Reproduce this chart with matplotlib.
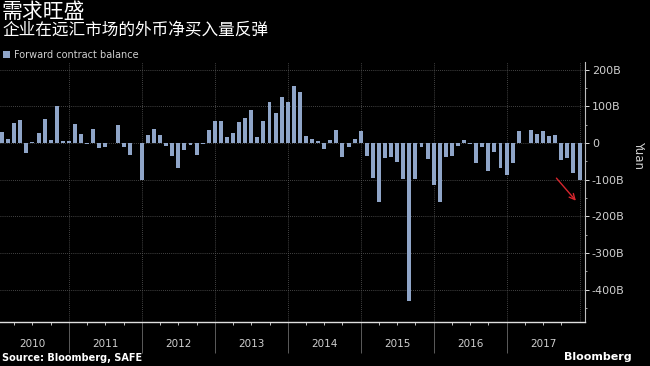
import numpy as np
import matplotlib
matplotlib.use("Agg")
from matplotlib import pyplot as plt

plt.rcParams['font.family'] = ['Noto Sans CJK SC', 'DejaVu Sans']

# monthly forward contract balance, billion yuan, Jan 2010 - Dec 2017
years = ['2010', '2011', '2012', '2013', '2014', '2015', '2016', '2017']
balance = [
    30, 12, 54, 62, -26, 2, 28, 66, 7, 100, 6, 5,            # 2010
    51, 25, -2, 37, -13, -12, 1, 48, -12, -33, 0, -102,      # 2011
    22, 37, 23, -9, -34, -67, -20, -6, -33, -2, 36, 61,      # 2012
    61, 17, 28, 58, 67, 91, 17, 59, 111, 81, 125, 113,       # 2013
    156, 140, 18, 10, 5, -15, 7, 35, -38, -11, 12, 34,       # 2014
    -35, -94, -161, -41, -38, -52, -97, -432, -99, -11, -43, -115,  # 2015
    -161, -38, -35, -7, 9, -2, -54, -11, -75, -25, -68, -88,  # 2016
    -55, 33, 0, 35, 24, 32, 18, 21, -47, -41, -81, -102,     # 2017
]
yticks = [200, 100, 0, -100, -200, -300, -400]
ytick_labels = ['200B', '100B', '0', '-100B', '-200B', '-300B', '-400B']

# red arrow (month index, billion yuan)
arrow_from = (91.9, -90)
arrow_to = (95.7, -163)

bar_color = '#8fa5c8'
text_grey = '#cfcfcf'

W, H = 650, 366
fig = plt.figure(figsize=(W / 100, H / 100), dpi=100, facecolor='black')
ax = fig.add_axes([0, 44 / H, 585 / W, 260 / H], facecolor='black')

# bars sit at month end
months = np.arange(1, len(balance) + 1)
bars = ax.bar(months, balance, width=0.65, color=bar_color, zorder=3,
              label='Forward contract balance')

ax.set_xlim(0.66, 96.9)
ax.set_ylim(-488, 221)

# grid
for y in yticks:
    ax.axhline(y, color='#5a5a5a', lw=0.6, ls=(0, (1, 1.5)), zorder=1)
bounds = np.arange(12, 12 * len(years) + 1, 12)
for x in bounds:
    ax.axvline(x, color='#5a5a5a', lw=0.6, ls=(0, (1, 1.5)), zorder=1)

# spines
for s in ['top', 'left']:
    ax.spines[s].set_visible(False)
ax.spines['bottom'].set_color('#e0e0e0')
ax.spines['bottom'].set_linewidth(1.0)
ax.spines['right'].set_color('#bdbdbd')
ax.spines['right'].set_linewidth(0.8)

# x axis: long year separators + small quarterly ticks, labels as text
ax.set_xticks(bounds[:-1])
ax.set_xticklabels([])
ax.set_xticks(np.arange(3, 96, 3), minor=True)
ax.tick_params(axis='x', which='major', length=22, width=0.6, color='#6a6a6a')
ax.tick_params(axis='x', which='minor', length=2.5, width=0.6, color='#e0e0e0')
for i, yr in enumerate(years):
    ax.text(12 * i + 6, -0.083, yr, transform=ax.get_xaxis_transform(),
            ha='center', va='center', color=text_grey, fontsize=7.5,
            family='DejaVu Sans')

# y axis on the right
ax.yaxis.tick_right()
ax.set_yticks(yticks)
ax.set_yticklabels(ytick_labels, family='DejaVu Sans')
ax.set_yticks(np.arange(-450, 201, 100), minor=True)
ax.tick_params(axis='y', which='major', length=3, width=0.7, color='#e0e0e0',
               labelcolor=text_grey, labelsize=8, pad=2)
ax.tick_params(axis='y', which='minor', length=1.5, width=0.6, color='#bdbdbd')
fig.text(639 / W, 1 - 155 / H, 'Yuan', rotation=270, ha='center', va='center',
         color=text_grey, fontsize=8.5, family='DejaVu Sans')

ax.annotate('', xy=arrow_to, xytext=arrow_from,
            arrowprops=dict(arrowstyle='->', color='#d8262e', lw=1.0), zorder=5)

# titles and legend
fig.text(2 / W, 1 - 1 / H, '需求旺盛', ha='left', va='top', color='white',
         fontsize=15)
fig.text(2 / W, 1 - 22 / H, '企业在远汇市场的外币净买入量反弹', ha='left', va='top',
         color='white', fontsize=12)
leg = fig.legend(handles=[bars], loc='center left', bbox_to_anchor=(0, 1 - 55 / H),
                 frameon=False, handlelength=0.7, handleheight=0.7,
                 handletextpad=0.4, borderaxespad=0, borderpad=0.3,
                 prop={'family': 'DejaVu Sans', 'size': 7})
for t in leg.get_texts():
    t.set_color(text_grey)

fig.text(2 / W, 1 - 358 / H, 'Source: Bloomberg, SAFE', ha='left', va='center',
         color='white', fontsize=7, fontweight='bold', family='DejaVu Sans')
fig.text(632 / W, 1 - 357 / H, 'Bloomberg', ha='right', va='center',
         color='white', fontsize=8, fontweight='bold', family='DejaVu Sans')

fig.savefig('out.png', dpi=100, facecolor='black')
